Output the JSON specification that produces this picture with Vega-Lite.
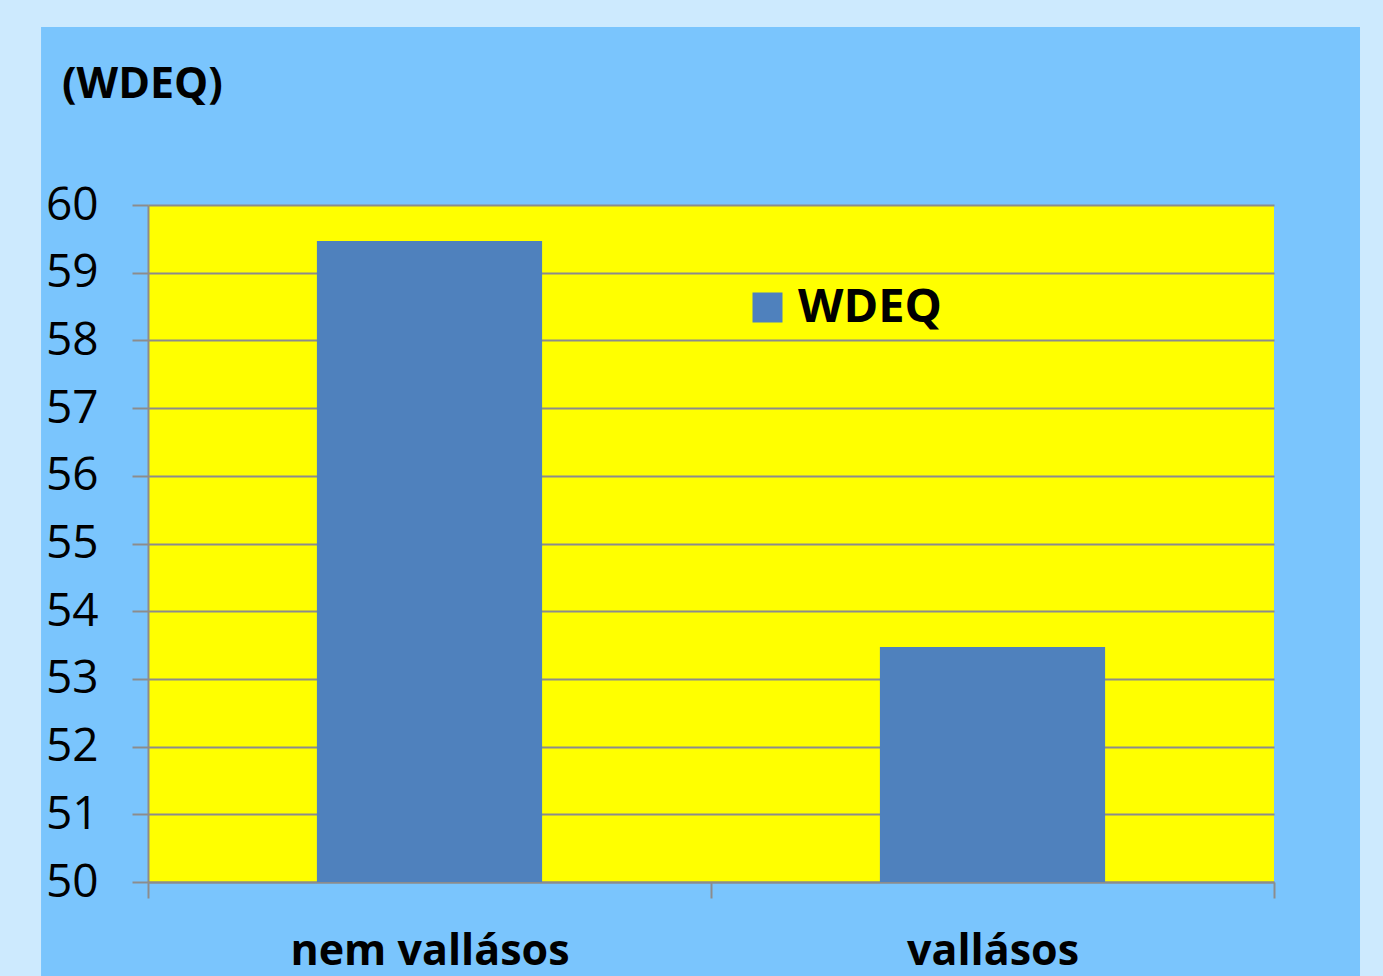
{
  "$schema": "https://vega.github.io/schema/vega-lite/v6.json",
  "width": 1126,
  "height": 677,
  "autosize": {"type": "none"},
  "padding": {"left": 148, "top": 205, "right": 109, "bottom": 94},
  "background": "#7ac5fd",
  "config": {"view": {"fill": "#ffff00", "stroke": null}, "font": "Open Sans"},
  "title": {"text": "(WDEQ)", "anchor": "start", "frame": "group", "fontSize": 43, "fontWeight": "bold", "color": "#000000", "font": "Open Sans", "baseline": "alphabetic", "offset": 0, "dx": -86, "dy": 196},
  "layer": [
    {
      "data": {"values": [{"csoport": "nem vallásos", "WDEQ": 59.47}, {"csoport": "vallásos", "WDEQ": 53.47}]},
      "transform": [{"fold": ["WDEQ"], "as": ["sorozat", "ertek"]}],
      "mark": {"type": "bar", "width": {"band": 0.4}, "clip": true},
      "encoding": {
        "x": {"field": "csoport", "type": "nominal", "sort": null, "scale": {"paddingInner": 0, "paddingOuter": 0},
          "axis": {"tickBand": "extent", "grid": false, "domainColor": "#8c8c8c", "domainWidth": 2, "tickColor": "#8c8c8c", "tickWidth": 2, "tickSize": 16, "labelFontSize": 43, "labelFontWeight": "bold", "labelFont": "Open Sans", "labelColor": "#000000", "labelAngle": 0, "labelPadding": 32, "labelLimit": 0, "labelOverlap": false, "labelBound": false, "title": null}},
        "y": {"field": "ertek", "type": "quantitative", "scale": {"domain": [50, 60], "zero": false, "nice": false},
          "axis": {"values": [50, 51, 52, 53, 54, 55, 56, 57, 58, 59, 60], "format": "d", "grid": true, "gridColor": "#8c8c8c", "gridWidth": 2, "domainColor": "#8c8c8c", "domainWidth": 2, "tickColor": "#8c8c8c", "tickWidth": 2, "tickSize": 16, "labelFontSize": 46, "labelFont": "Open Sans", "labelColor": "#000000", "labelPadding": 34, "title": null}},
        "color": {"field": "sorozat", "type": "nominal", "scale": {"range": ["#4f81bd"]},
          "legend": {"orient": "none", "legendX": 596, "legendY": 79, "title": null, "symbolType": "square", "symbolSize": 900, "symbolStrokeWidth": 0, "labelFontSize": 47, "labelFontWeight": "bold", "labelFont": "Open Sans", "labelColor": "#000000", "labelOffset": 7, "padding": 0}}
      }
    },
    {
      "data": {"values": [{}]},
      "mark": {"type": "rect", "filled": false, "color": "#cdeafe", "strokeWidth": 82},
      "encoding": {
        "x": {"datum": -0.1314, "type": "quantitative", "scale": {"domain": [0, 1], "nice": false, "zero": false}, "axis": null},
        "x2": {"datum": 1.1128},
        "y": {"datum": 63.235, "type": "quantitative", "scale": {"domain": [50, 60], "zero": false, "nice": false}},
        "y2": {"datum": 47.9}
      }
    }
  ],
  "resolve": {"scale": {"x": "independent"}}
}
